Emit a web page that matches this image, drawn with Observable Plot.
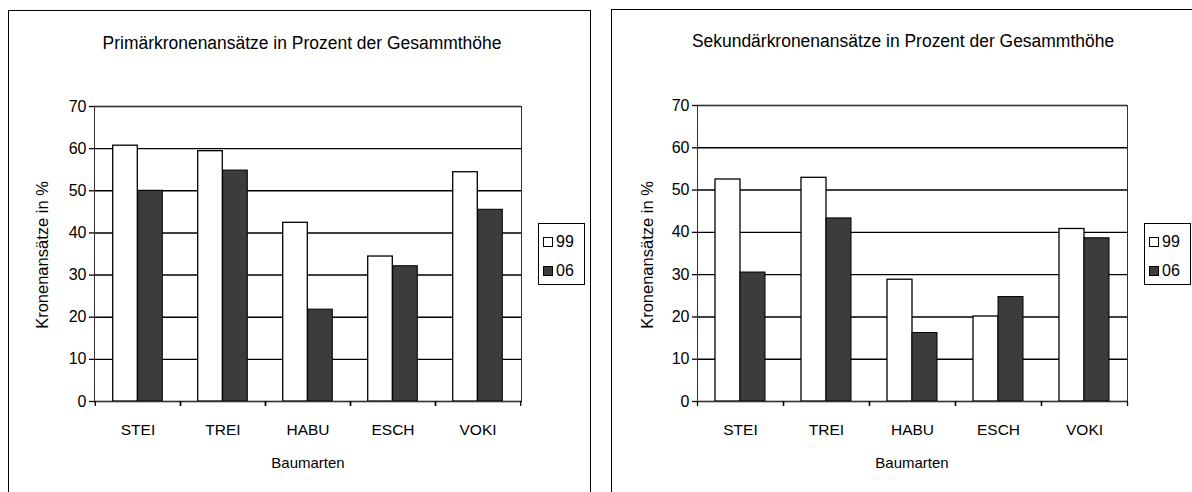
<!DOCTYPE html>
<html><head><meta charset="utf-8">
<script src="https://cdn.jsdelivr.net/npm/d3@7"></script>
<script src="https://cdn.jsdelivr.net/npm/@observablehq/plot@0.6"></script>
<style>
html,body{margin:0;padding:0;background:#fff;width:1192px;height:492px;overflow:hidden;font-family:"Liberation Sans",Arial,sans-serif;color:#000;}
.panel{position:absolute;border:1px solid #000;box-sizing:border-box;}
.title{position:absolute;font-size:18px;white-space:nowrap;transform:translate(-50%,-50%) scaleX(0.97);}
.ylab{position:absolute;font-size:16.5px;white-space:nowrap;transform:translate(-50%,-50%) rotate(-90deg);}
.xlab{position:absolute;font-size:15px;white-space:nowrap;transform:translate(-50%,-50%);}
.legend{position:absolute;border:1px solid #000;box-sizing:border-box;background:#fff;font-size:16px;}
.legend .row{position:absolute;left:4px;display:flex;align-items:center;gap:3px;line-height:1;}
.sw{width:10px;height:10px;border:1.2px solid #000;box-sizing:border-box;display:inline-block;}
</style></head><body>
<script>
const categories = ["STEI", "TREI", "HABU", "ESCH", "VOKI"];
const seriesNames = ["99", "06"];
const primaer99 = [60.7, 59.4, 42.4, 34.4, 54.4];
const primaer06 = [50.0, 54.8, 21.8, 32.1, 45.5];
const sekundaer99 = [52.5, 52.9, 28.8, 20.1, 40.8];
const sekundaer06 = [30.5, 43.3, 16.2, 24.7, 38.6];
const yTicks = [0, 10, 20, 30, 40, 50, 60, 70];
const chartTitles = ["Primärkronenansätze in Prozent der Gesammthöhe", "Sekundärkronenansätze in Prozent der Gesammthöhe"];
const yLabel = "Kronenansätze in %";
const xLabel = "Baumarten";

const DARK = "#3c3c3c";

function add(html) {
  const d = document.createElement("div");
  d.innerHTML = html;
  const el = d.firstElementChild;
  document.body.appendChild(el);
  return el;
}

function panel(cfg) {
  const {v99, v06, title} = cfg;
  add(`<div class="panel" style="left:${cfg.boxL}px;top:${cfg.boxT}px;width:${cfg.boxW}px;height:560px"></div>`);
  const data99 = categories.map((c, i) => ({cat: c, val: v99[i]}));
  const data06 = categories.map((c, i) => ({cat: c, val: v06[i]}));
  const plotW = cfg.width - cfg.mL - cfg.mR;
  const bw = plotW / categories.length;
  const barW = 25;
  const svg = Plot.plot({
    width: cfg.width,
    height: 492,
    marginLeft: cfg.mL,
    marginRight: cfg.mR,
    marginTop: cfg.mT,
    marginBottom: cfg.mB,
    style: {fontFamily: "'Liberation Sans', Arial, sans-serif", fontSize: "15px", color: "#000", background: "transparent", overflow: "visible"},
    x: {domain: categories, padding: 0, label: null},
    y: {domain: [0, 70], label: null},
    marks: [
      Plot.ruleY(yTicks, {stroke: "#000", strokeWidth: 1.4}),
      Plot.barY(data99, {x: "cat", y: "val", fill: "#fff", stroke: "#000", strokeWidth: 1.3, insetLeft: bw / 2 - barW, insetRight: bw / 2}),
      Plot.barY(data06, {x: "cat", y: "val", fill: DARK, stroke: "#000", strokeWidth: 1, insetLeft: bw / 2, insetRight: bw / 2 - barW}),
      Plot.frame({stroke: "#333", strokeWidth: 1}),
      Plot.ruleX([0], {stroke: "#000", strokeWidth: 1.4}),
      Plot.axisY({ticks: yTicks, tickSize: 5, tickPadding: 3, fontSize: 16, label: null, strokeWidth: 1.3}),
      Plot.axisX({tickSize: 0, tickPadding: 22, fontSize: 15.5, label: null}),
      Plot.axisX({tickSize: 5, dx: -bw / 2, tickFormat: () => "", label: null, strokeWidth: 1.3}),
      Plot.axisX({tickSize: 5, dx: bw / 2, tickFormat: () => "", label: null, strokeWidth: 1.3})
    ]
  });
  svg.style.position = "absolute";
  svg.style.left = cfg.svgL + "px";
  svg.style.top = "0px";
  document.body.appendChild(svg);

  add(`<div class="title" style="left:${cfg.titleX}px;top:${cfg.titleY}px">${title}</div>`);
  add(`<div class="ylab" style="left:${cfg.ylabX}px;top:${cfg.ylabY}px">${yLabel}</div>`);
  add(`<div class="xlab" style="left:${cfg.xlabX}px;top:${cfg.xlabY}px">${xLabel}</div>`);
  add(`<div class="legend" style="left:${cfg.legL}px;top:223px;width:${cfg.legW}px;height:62px">
    <div class="row" style="top:10px"><span class="sw" style="background:#fff"></span><span>${seriesNames[0]}</span></div>
    <div class="row" style="top:39px"><span class="sw" style="background:${DARK}"></span><span>${seriesNames[1]}</span></div>
  </div>`);
}

panel({v99: primaer99, v06: primaer06, title: chartTitles[0],
  boxL: 8, boxT: 10, boxW: 583,
  svgL: 0, width: 596, mL: 94, mR: 75, mT: 106, mB: 91,
  titleX: 302, titleY: 43, ylabX: 42, ylabY: 255, xlabX: 308, xlabY: 462, legL: 538, legW: 47});
panel({v99: sekundaer99, v06: sekundaer06, title: chartTitles[1],
  boxL: 611, boxT: 9, boxW: 600,
  svgL: 596, width: 596, mL: 101, mR: 65, mT: 105, mB: 91,
  titleX: 903, titleY: 41, ylabX: 647, ylabY: 255, xlabX: 912, xlabY: 462, legL: 1144, legW: 47});
</script>
</body></html>
